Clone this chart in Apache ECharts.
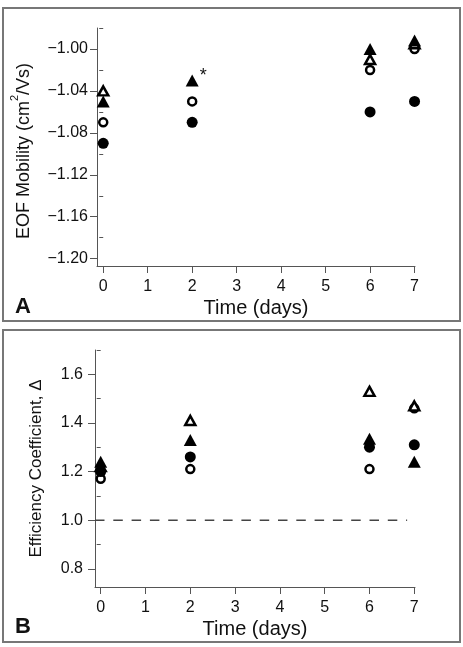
<!DOCTYPE html>
<html>
<head>
<meta charset="utf-8">
<script src="https://cdn.jsdelivr.net/npm/echarts@6/dist/echarts.min.js"></script>
<style>
html, body { margin: 0; padding: 0; background: #fff; }
#chart { width: 463px; height: 647px; }
</style>
</head>
<body>
<div id="chart"></div>
<script>
// sampling days
var days = [0, 2, 6, 7];
var dayTicks = [0, 1, 2, 3, 4, 5, 6, 7];

// panel A - EOF mobility (cm2/Vs); null = no point
var eofOpenCircle = [-1.07, -1.05, -1.02, -1.00];
var eofOpenTriangle = [-1.04, null, -1.01, -0.995];
var eofFilledCircle = [-1.09, -1.07, -1.06, -1.05];
var eofFilledTriangle = [-1.05, -1.03, -1.00, -0.992];
var eofTicks = [-1.20, -1.16, -1.12, -1.08, -1.04, -1.00];
var eofMinorTicks = [-1.18, -1.14, -1.10, -1.06, -1.02, -0.98];

// panel B - efficiency coefficient
var effOpenCircle = [1.17, 1.21, 1.21, 1.46];
var effOpenTriangle = [1.22, 1.41, 1.53, 1.47];
var effFilledCircle = [1.20, 1.26, 1.30, 1.31];
var effFilledTriangle = [1.24, 1.33, 1.335, 1.24];
var effTicks = [0.8, 1.0, 1.2, 1.4, 1.6];
var effMinorTicks = [0.9, 1.1, 1.3, 1.5, 1.7];
var baseline = 1.0;
var baselineDays = [-0.127, 6.84];

var FONT = '"Liberation Sans", Arial, sans-serif';
var TEXT = '#111';
var AXIS = '#555';

function pts(vals) {
	var out = [];
	days.forEach(function (d, i) {
		if (vals[i] != null) out.push([d, vals[i]]);
	});
	return out;
}

var openStyle = { color: '#fff', borderColor: '#000', borderWidth: 2.5, opacity: 1 };
var filledStyle = { color: '#000', opacity: 1 };

function marks(panel, vals, symbol, size, style) {
	return {
		type: 'scatter', xAxisIndex: panel, yAxisIndex: panel * 2,
		data: pts(vals), symbol: symbol, symbolSize: size,
		itemStyle: style, silent: true
	};
}

function timeAxis(grid, min, max) {
	return {
		type: 'value', gridIndex: grid, min: min, max: max,
		name: 'Time (days)', nameLocation: 'middle', nameGap: 32,
		nameTextStyle: { fontFamily: FONT, fontSize: 20, color: TEXT },
		axisLine: { onZero: false, lineStyle: { color: AXIS, width: 1 } },
		axisTick: { customValues: dayTicks, length: 7, lineStyle: { color: AXIS } },
		axisLabel: { customValues: dayTicks, fontFamily: FONT, fontSize: 16, color: TEXT, margin: 13 },
		splitLine: { show: false }
	};
}

function valueAxis(grid, min, max, ticks, digits, margin, name, nameGap, nameStyle) {
	return {
		type: 'value', gridIndex: grid, min: min, max: max, position: 'left',
		name: name, nameLocation: 'middle', nameGap: nameGap,
		nameTextStyle: nameStyle,
		axisLine: { onZero: false, lineStyle: { color: AXIS, width: 1 } },
		axisTick: { customValues: ticks, length: 7, lineStyle: { color: AXIS } },
		axisLabel: {
			customValues: ticks, fontFamily: FONT, fontSize: 16, color: TEXT, margin: margin,
			formatter: function (v) { return v.toFixed(digits).replace('-', '\u2212'); }
		},
		splitLine: { show: false }
	};
}

function minorAxis(grid, min, max, ticks) {
	return {
		type: 'value', gridIndex: grid, min: min, max: max, position: 'left',
		axisLine: { show: false },
		axisTick: { customValues: ticks, length: 4, lineStyle: { color: AXIS } },
		axisLabel: { show: false },
		splitLine: { show: false }
	};
}

var eofName = '{n|EOF Mobility (cm}{s|2}{n|/Vs)}';
var eofNameStyle = {
	fontFamily: FONT, fontSize: 18, color: TEXT, padding: [0, 8, 0, 0],
	rich: {
		n: { fontFamily: FONT, fontSize: 18, color: TEXT, lineHeight: 30 },
		s: { fontFamily: FONT, fontSize: 11, color: TEXT, lineHeight: 11, verticalAlign: 'top' }
	}
};
var effNameStyle = { fontFamily: FONT, fontSize: 17, color: TEXT };

// asterisk on day 2 filled triangle
var filledTriA = marks(0, eofFilledTriangle, 'triangle', [13, 12], filledStyle);
filledTriA.data = filledTriA.data.map(function (p) {
	if (p[0] !== 2) return p;
	return {
		value: p,
		label: { show: true, formatter: '*', position: 'right', distance: 1, offset: [0, -4],
			fontFamily: FONT, fontSize: 18, color: TEXT }
	};
});

var option = {
	animation: false,
	backgroundColor: '#fff',
	grid: [
		{ left: 97, top: 28, width: 318, height: 238 },
		{ left: 95, top: 350, width: 320, height: 237 }
	],
	xAxis: [
		timeAxis(0, -0.14, 7.01),
		timeAxis(1, -0.127, 7.016)
	],
	yAxis: [
		valueAxis(0, -1.207, -0.98, eofTicks, 2, 9, eofName, 58, eofNameStyle),
		minorAxis(0, -1.207, -0.98, eofMinorTicks),
		valueAxis(1, 0.725, 1.70, effTicks, 1, 12, 'Efficiency Coefficient, \u0394', 50, effNameStyle),
		minorAxis(1, 0.725, 1.70, effMinorTicks)
	],
	graphic: [
		{ type: 'rect', silent: true, shape: { x: 3, y: 8, width: 457, height: 313 },
			style: { fill: 'none', stroke: '#777', lineWidth: 2 } },
		{ type: 'rect', silent: true, shape: { x: 3, y: 330, width: 457, height: 312 },
			style: { fill: 'none', stroke: '#777', lineWidth: 2 } },
		{ type: 'text', left: 15, top: 296, style: { text: 'A', font: 'bold 22px ' + FONT, fill: TEXT } },
		{ type: 'text', left: 15, top: 616, style: { text: 'B', font: 'bold 22px ' + FONT, fill: TEXT } }
	],
	series: [
		{
			type: 'line', xAxisIndex: 1, yAxisIndex: 2, silent: true, symbol: 'none',
			data: baselineDays.map(function (d) { return [d, baseline]; }),
			lineStyle: { color: '#444', width: 1.5, type: [9.5, 8.8] }
		},
		marks(0, eofOpenCircle, 'circle', 8, openStyle),
		marks(0, eofOpenTriangle, 'triangle', [10, 9], openStyle),
		marks(0, eofFilledCircle, 'circle', 11, filledStyle),
		filledTriA,
		marks(1, effOpenCircle, 'circle', 8, openStyle),
		marks(1, effOpenTriangle, 'triangle', [10, 9], openStyle),
		marks(1, effFilledCircle, 'circle', 11, filledStyle),
		marks(1, effFilledTriangle, 'triangle', [13, 12], filledStyle)
	]
};

var chart = echarts.init(document.getElementById('chart'), null, { renderer: 'canvas' });
chart.setOption(option);
</script>
</body>
</html>
